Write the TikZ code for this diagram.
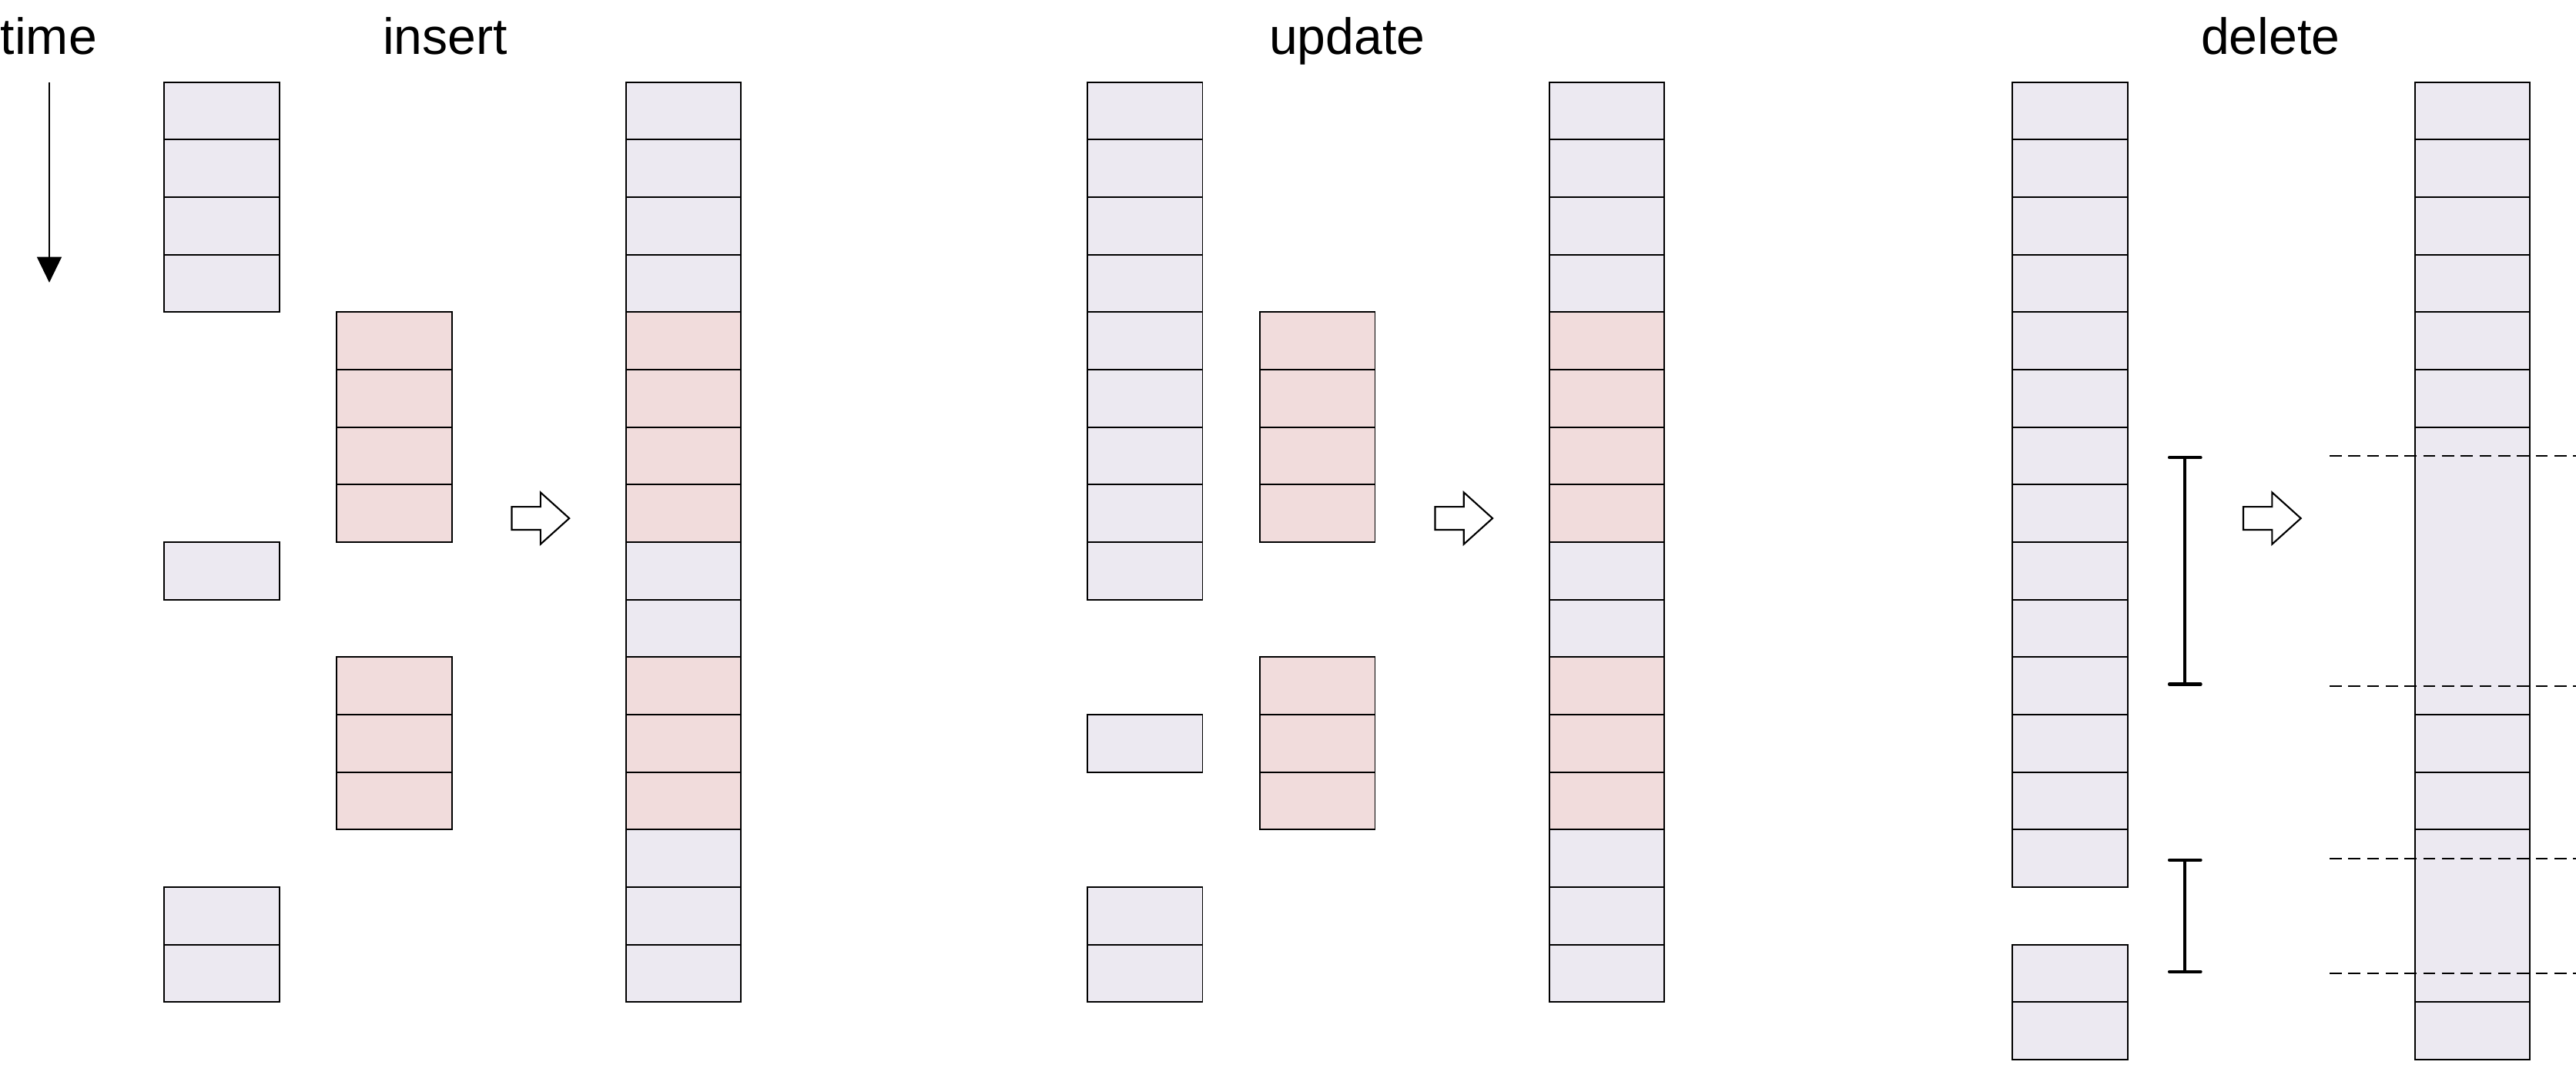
\documentclass[tikz,border=0pt]{standalone}
\usepackage{fontspec}
\setmainfont{Liberation Sans}
\usepackage{xcolor}
\usepackage{tikz}
\usetikzlibrary{arrows.meta}
\usetikzlibrary{shapes.arrows}

\definecolor{oldgray}{RGB}{236,233,241}
\definecolor{newred}{RGB}{241,220,220}

\begin{document}
\begin{tikzpicture}[x=0.5pt,y=-0.5pt,
		cell/.style={shape=rectangle,draw=black,fill=oldgray,line width=0.4pt,inner sep=0pt,outer sep=0pt,minimum width=35pt,minimum height=17.5pt},
		newcell/.style={cell,fill=newred},
		opname/.style={font=\fontsize{15.5}{18}\selectfont,anchor=base},
		goes/.style={shape=single arrow,draw=black,fill=white,line width=0.5pt,inner xsep=0pt,inner ysep=3.25pt,minimum height=17.5pt,single arrow head extend=4.375pt,single arrow tip angle=84,anchor=west},
		span/.style={{Bar[width=9.5pt,round]}-{Bar[width=9.5pt,round]},line width=1pt},
		cut/.style={dash pattern=on 3.7pt off 2pt,line width=0.4pt}]
			\useasboundingbox (0,0) rectangle (1568,648);

			\node[opname,anchor=base west,inner sep=0pt] (time) at (0,33) {time};
			\node[opname] (insert) at (271,33) {insert};
			\node[opname] (update) at (820,33) {update};
			\node[opname] (delete) at (1382,33) {delete};

			\coordinate (t0) at (30,50);
			\coordinate (t1) at (30,172);
			\draw[-{Triangle[width=7.5pt,length=7.8pt]}, line width=0.4pt] (t0) -- (t1);

			%% insert
			\foreach \r in {0,1,2,3,8,14,15} \node[cell] (ia\r) at (135,67.5+35*\r) {};
			\foreach \r in {4,5,6,7,10,11,12} \node[newcell] (ib\r) at (240,67.5+35*\r) {};
			\node[goes] (iarr) at (311,315.5) {};
			\foreach \r in {0,1,2,3,8,9,13,14,15} \node[cell] (ic\r) at (416,67.5+35*\r) {};
			\foreach \r in {4,5,6,7,10,11,12} \node[newcell] (ic\r) at (416,67.5+35*\r) {};

			%% update
			\foreach \r in {0,1,2,3,4,5,6,7,8,11,14,15} \node[cell] (ua\r) at (697,67.5+35*\r) {};
			\foreach \r in {4,5,6,7,10,11,12} \node[newcell] (ub\r) at (802,67.5+35*\r) {};
			\node[goes] (uarr) at (873,315.5) {};
			\foreach \r in {0,1,2,3,8,9,13,14,15} \node[cell] (uc\r) at (978,67.5+35*\r) {};
			\foreach \r in {4,5,6,7,10,11,12} \node[newcell] (uc\r) at (978,67.5+35*\r) {};

			%% delete
			\foreach \r in {0,1,...,13,15,16} \node[cell] (da\r) at (1260,67.5+35*\r) {};
			\coordinate (s1) at (1330,277.5);
			\coordinate (s2) at (1330,417.5);
			\coordinate (s3) at (1330,522.5);
			\coordinate (s4) at (1330,592.5);
			\draw[span] (s1) -- (s2);
			\draw[span] (s3) -- (s4);
			\node[goes] (darr) at (1365,315.5) {};
			\foreach \r in {0,1,2,3,4,5,11,12,16} \node[cell] (dc\r) at (1505,67.5+35*\r) {};
			\node[cell,minimum height=87.5pt] (dc6) at (1505,347.5) {};
			\node[cell,minimum height=52.5pt] (dc13) at (1505,557.5) {};
			\foreach \y [count=\i] in {277.5,417.5,522.5,592.5} {
				\coordinate (cl\i) at (1418,\y);
				\coordinate (cr\i) at (1568,\y);
				\draw[cut] (cl\i) -- (cr\i);
			}
		\end{tikzpicture}
\end{document}
